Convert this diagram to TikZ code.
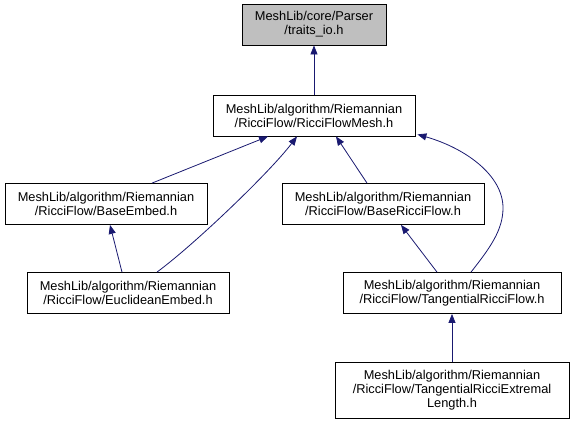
\documentclass[tikz,border=0pt]{standalone}
\usepackage{fontspec}
\setmainfont{Liberation Sans}
\usetikzlibrary{arrows.meta}
\definecolor{edgeblue}{HTML}{191970}
\definecolor{mainfill}{HTML}{BFBFBF}
\begin{document}
\begin{tikzpicture}[x=1pt,y=-1pt,
  filebox/.style={draw=black, line width=0.8pt, fill=white, inner sep=0pt, align=center,
    font=\fontsize{12.8}{14}\selectfont, minimum height=41pt},
  edge/.style={draw=edgeblue, line width=0.8pt, -{Triangle[length=9pt,width=7pt]}}]
\useasboundingbox (0,0) rectangle (573,424);
\node[filebox, fill=mainfill, minimum width=144pt] (traits) at (314,24.5) {MeshLib/core/Parser\\/traits\_io.h};
\node[filebox, minimum width=202pt] (rfm) at (314,115.5) {MeshLib/algorithm/Riemannian\\/RicciFlow/RicciFlowMesh.h};
\node[filebox, minimum width=202pt] (be) at (106,204) {MeshLib/algorithm/Riemannian\\/RicciFlow/BaseEmbed.h};
\node[filebox, minimum width=202pt] (brf) at (383,204) {MeshLib/algorithm/Riemannian\\/RicciFlow/BaseRicciFlow.h};
\node[filebox, minimum width=202pt] (ee) at (128,293) {MeshLib/algorithm/Riemannian\\/RicciFlow/EuclideanEmbed.h};
\node[filebox, minimum width=218pt] (trf) at (452,293) {MeshLib/algorithm/Riemannian\\/RicciFlow/TangentialRicciFlow.h};
\node[filebox, minimum width=234pt, minimum height=56pt] (ext) at (452,390.5) {MeshLib/algorithm/Riemannian\\/RicciFlow/TangentialRicciExtremal\\Length.h};
\draw[edge] (rfm.north) -- (traits.south);
\draw[edge] ([xshift=46pt]be.north) -- ([xshift=-46pt]rfm.south);
\draw[edge] ([xshift=29pt]ee.north) .. controls (195,244) and (270,172) .. ([xshift=-17pt]rfm.south);
\draw[edge] ([xshift=-16pt]brf.north) -- ([xshift=22pt]rfm.south);
\draw[edge] ([xshift=19pt]trf.north) .. controls (490,248) and (503,230) .. (503,208) .. controls (503,175) and (465,148) .. ([xshift=2pt,yshift=2pt]rfm.south east);
\draw[edge] ([xshift=-15pt]trf.north) -- ([xshift=18pt]brf.south);
\draw[edge] ([xshift=-6pt]ee.north) -- ([xshift=4pt]be.south);
\draw[edge] (ext.north) -- (trf.south);
\end{tikzpicture}
\end{document}
